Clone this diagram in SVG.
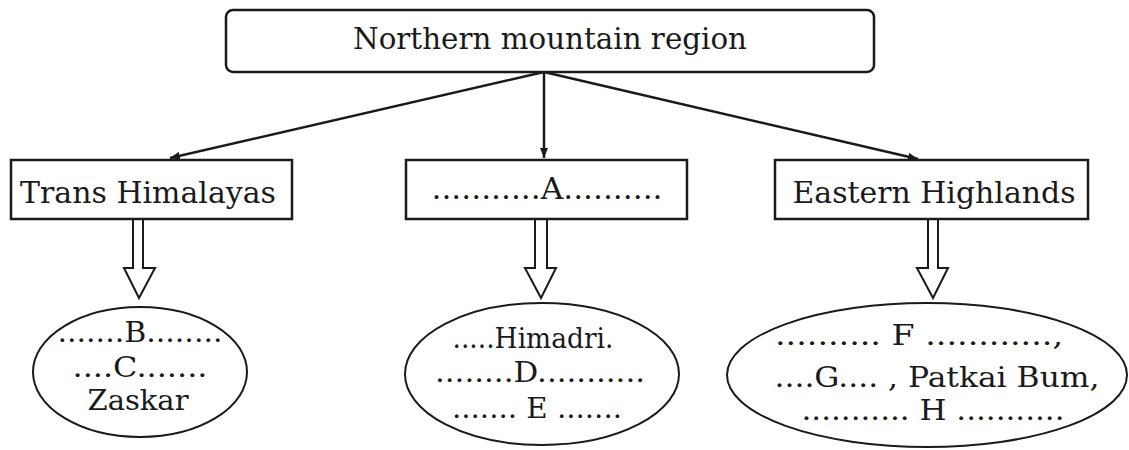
<svg xmlns="http://www.w3.org/2000/svg" width="1129" height="450" viewBox="0 0 1129 450">
<defs>
<style>
.box{fill:#fff;stroke:#1a1a1a;stroke-width:2.5}
.ell{fill:#fff;stroke:#1a1a1a;stroke-width:2}
.t{font-family:"DejaVu Serif","Liberation Serif",serif;font-size:29px;fill:#1a1a1a;text-anchor:middle}
.s{font-family:"DejaVu Serif","Liberation Serif",serif;font-size:28px;fill:#1a1a1a;text-anchor:middle}
.ln{stroke:#1a1a1a;stroke-width:2.5;fill:none}
.hol{fill:#fff;stroke:#1a1a1a;stroke-width:2}
</style>
<marker id="ah" viewBox="0 0 10 8" refX="10" refY="4" markerWidth="10" markerHeight="8" markerUnits="userSpaceOnUse" orient="auto">
<path d="M0,0 L10,4 L0,8 Z" fill="#1a1a1a"/>
</marker>
</defs>
<rect width="1129" height="450" fill="#fff"/>
<g id="connectors">
<line class="ln" x1="544" y1="72" x2="170" y2="158" marker-end="url(#ah)"/>
<line class="ln" x1="544" y1="72" x2="544" y2="158" stroke-width="1.5" marker-end="url(#ah)"/>
<line class="ln" x1="544" y1="72" x2="918" y2="159" marker-end="url(#ah)"/>
<path class="hol" d="M133,219 L143,219 L143,268 L155,268 L139,298 L124,268 L133,268 Z"/>
<path class="hol" d="M535,219 L547,219 L547,268 L556,268 L541,298 L525,268 L535,268 Z"/>
<path class="hol" d="M928,219 L938,219 L938,268 L948,268 L933,298 L917,268 L928,268 Z"/>
</g>
<g id="root">
<rect class="box" x="226" y="10" width="648" height="62" rx="7"/>
<text class="t" x="550" y="49" textLength="394" lengthAdjust="spacingAndGlyphs">Northern mountain region</text>
</g>
<g id="trans">
<rect class="box" x="11" y="160" width="281" height="59"/>
<text class="t" x="148" y="203" textLength="256" lengthAdjust="spacingAndGlyphs">Trans Himalayas</text>
</g>
<g id="a">
<rect class="box" x="406" y="160" width="281" height="59"/>
<text class="t" x="547" y="199" textLength="231" lengthAdjust="spacingAndGlyphs">...........A..........</text>
</g>
<g id="eastern">
<rect class="box" x="775" y="160" width="313" height="59"/>
<text class="t" x="934" y="203" textLength="283" lengthAdjust="spacingAndGlyphs">Eastern Highlands</text>
</g>
<g id="trans-list">
<ellipse class="ell" cx="140" cy="372" rx="107" ry="65"/>
<text class="s" x="140" y="342" textLength="165" lengthAdjust="spacingAndGlyphs">.......B........</text>
<text class="s" x="140" y="377" textLength="135" lengthAdjust="spacingAndGlyphs">....C.......</text>
<text class="s" x="138" y="410" textLength="101" lengthAdjust="spacingAndGlyphs">Zaskar</text>
</g>
<g id="a-list">
<ellipse class="ell" cx="542" cy="374" rx="137" ry="71"/>
<text class="s" x="533" y="348" textLength="161" lengthAdjust="spacingAndGlyphs">.....Himadri.</text>
<text class="s" x="540" y="382" textLength="210" lengthAdjust="spacingAndGlyphs">........D...........</text>
<text class="s" x="537" y="418" textLength="170" lengthAdjust="spacingAndGlyphs">....... E .......</text>
</g>
<g id="eastern-list">
<ellipse class="ell" cx="927" cy="375" rx="200" ry="72"/>
<text class="s" x="919" y="345" textLength="288" lengthAdjust="spacingAndGlyphs">.......... F ............,</text>
<text class="s" x="937" y="387" textLength="325" lengthAdjust="spacingAndGlyphs">....G.... , Patkai Bum,</text>
<text class="s" x="933" y="420" textLength="263" lengthAdjust="spacingAndGlyphs">........... H ...........</text>
</g>
</svg>
